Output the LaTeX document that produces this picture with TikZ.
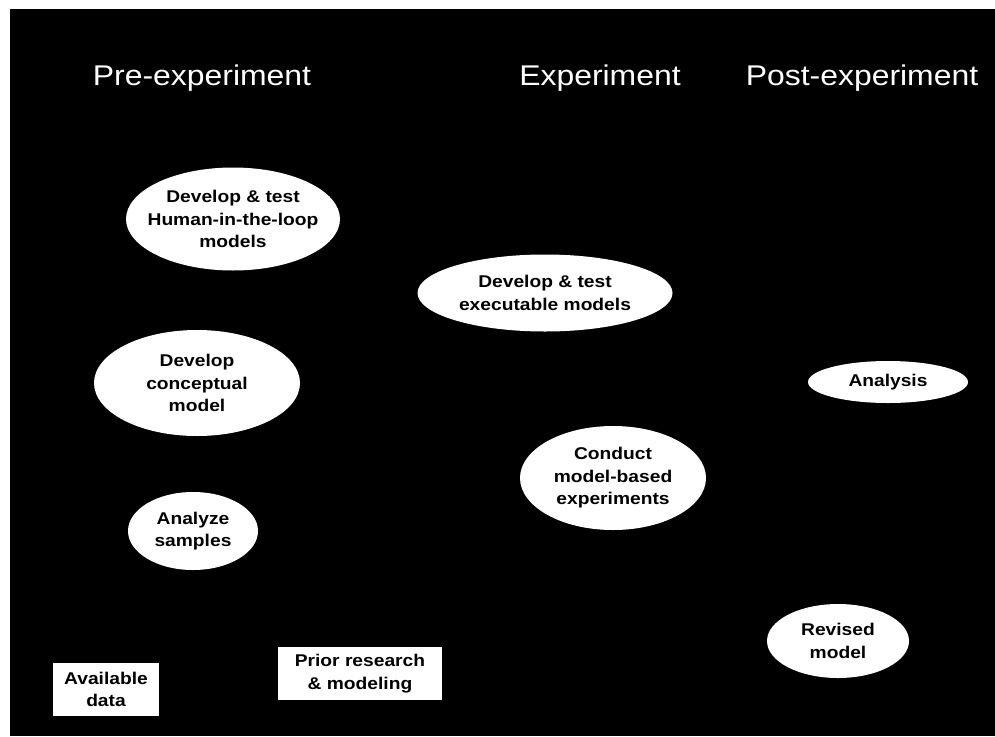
\documentclass[tikz,border=0pt]{standalone}
\usepackage{fontspec}
\setmainfont{Liberation Sans}
\newfontfamily\headfont[FakeStretch=1.12]{Liberation Sans}
\newfontfamily\boxfont[FakeStretch=1.13]{Liberation Sans}
\usetikzlibrary{shapes.geometric}
\tikzset{
  blob/.style={ellipse, fill=white, draw=none, inner sep=0pt},
  tagbox/.style={rectangle, fill=white, draw=none, inner sep=0pt},
  lbl/.style={align=center, text=black, inner sep=0pt,
    font=\boxfont\bfseries\fontsize{17}{22.5}\selectfont},
  head/.style={text=white, anchor=base, inner sep=0pt,
    font=\headfont\fontsize{28.5}{34}\selectfont}
}
\begin{document}
\begin{tikzpicture}[x=1pt,y=-1pt]
\useasboundingbox (0,0) rectangle (995,736);
\fill[white] (0,0) rectangle (995,736);
\fill[black] (10,9) rectangle (995,736);

% headings
\node[head] (pre) at (202,85) {Pre-experiment};
\node[head] (exp) at (600,85) {Experiment};
\node[head] (post) at (862,85) {Post-experiment};

% ellipses
\node[blob, minimum width=214pt, minimum height=103pt] (hitl) at (233,219) {};
\node[lbl] (hitlt) at (hitl) {Develop \& test\\Human-in-the-loop\\models};

\node[blob, minimum width=206pt, minimum height=106pt] (concept) at (197,383) {};
\node[lbl] (conceptt) at (concept) {Develop\\conceptual\\model};

\node[blob, minimum width=130pt, minimum height=78pt] (samples) at (193,531) {};
\node[lbl] (samplest) at (samples) {Analyze\\samples};

\node[blob, minimum width=255pt, minimum height=77pt] (exec) at (545,293) {};
\node[lbl] (exect) at (exec) {Develop \& test\\executable models};

\node[blob, minimum width=186pt, minimum height=104pt] (conduct) at (613,478) {};
\node[lbl] (conductt) at (conduct) {Conduct\\model-based\\experiments};

\node[blob, minimum width=160pt, minimum height=42pt] (analysis) at (888,382) {};
\node[lbl] (analysist) at (analysis) {Analysis};

\node[blob, minimum width=142pt, minimum height=74pt] (revised) at (838,641) {};
\node[lbl] (revisedt) at (revised) {Revised\\model};

% rectangles
\node[tagbox, minimum width=106pt, minimum height=53pt] (avail) at (106,689.5) {};
\node[lbl] (availt) at (avail) {Available\\data};

\node[tagbox, minimum width=164pt, minimum height=53pt] (prior) at (360,673.5) {};
\node[lbl] (priort) at (prior) {Prior research\\\& modeling};
\end{tikzpicture}
\end{document}
